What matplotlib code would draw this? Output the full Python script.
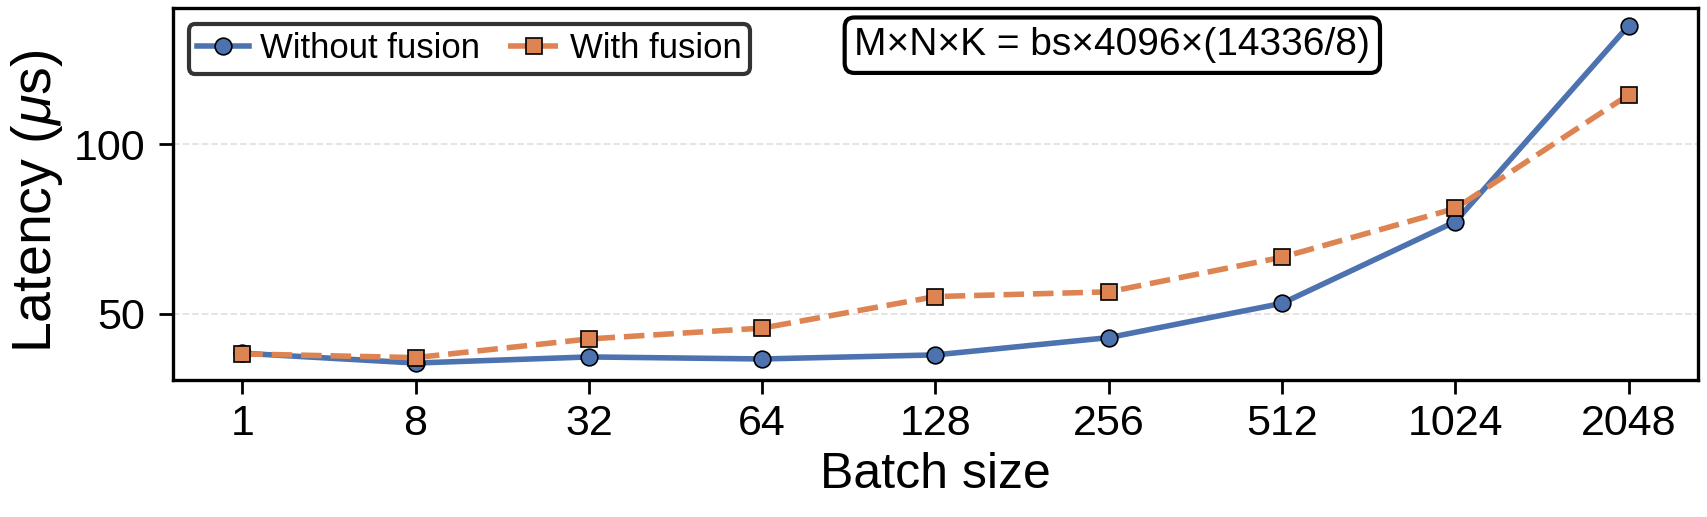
import numpy as np
import matplotlib
matplotlib.use("Agg")
import matplotlib.pyplot as plt

plt.rcParams['font.family'] = ['Liberation Sans', 'DejaVu Sans']
plt.rcParams['mathtext.fontset'] = 'custom'
plt.rcParams['mathtext.it'] = 'Liberation Sans:italic'
plt.rcParams['mathtext.rm'] = 'Liberation Sans'

# data
batch_sizes = ['1', '8', '32', '64', '128', '256', '512', '1024', '2048']
lat_without = [38.4, 35.5, 37.3, 36.7, 37.9, 43.0, 53.1, 77.2, 135.0]
lat_with = [38.2, 37.1, 42.6, 45.8, 55.1, 56.5, 66.7, 81.1, 114.6]
y_ticks = [50, 100]

blue = '#4C72B0'
orange = '#DD8452'

fig = plt.figure(figsize=(17.07, 5.17), dpi=100)
ax = fig.add_axes([0.1013, 0.265, 0.8934, 0.7195])

x = np.arange(len(batch_sizes))
ax.plot(x, lat_without, '-o', color=blue, lw=4, ms=12,
        mec='black', mew=1.2, label='Without fusion', zorder=3)
ax.plot(x, lat_with, '--s', color=orange, lw=4, ms=12,
        mec='black', mew=1.2, label='With fusion', zorder=4)

ax.set_xlim(-0.4, 8.4)
ax.set_ylim(30.5, 140.2)
ax.set_xticks(x)
ax.set_xticklabels(batch_sizes)
ax.set_yticks(y_ticks)
ax.yaxis.grid(True, ls='--', color='#e2e2e2', lw=1.3)
ax.set_axisbelow(True)

ax.tick_params(axis='both', labelsize=31, length=10, width=2, direction='out')
ax.tick_params(axis='x', pad=7)
ax.tick_params(axis='y', pad=10)
for sp in ax.spines.values():
    sp.set_linewidth(2.4)

ax.set_xlabel('Batch size', fontsize=36, labelpad=6)
ax.set_ylabel(r'Latency ($\mu$s)', fontsize=40)
ax.yaxis.set_label_coords(-0.071, 0.48)

leg = ax.legend(loc='upper left', ncol=2, fontsize=25, frameon=True,
                fancybox=True, framealpha=1, edgecolor='#333333',
                borderpad=0.25, handlelength=1.5, handletextpad=0.3,
                columnspacing=0.8, borderaxespad=0.45)
leg.get_frame().set_linewidth(3)

ax.text(0.616, 0.90, 'M×N×K = bs×4096×(14336/8)', transform=ax.transAxes,
        fontsize=28, ha='center', va='center',
        bbox=dict(boxstyle='round,pad=0.25', fc='white', ec='black', lw=3))

fig.savefig('out.png', dpi=100)
